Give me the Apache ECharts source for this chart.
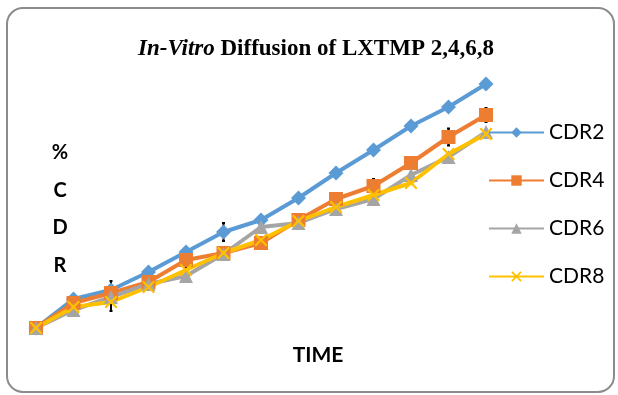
<!DOCTYPE html>
<html>
<head>
<meta charset="utf-8">
<script src="https://cdn.jsdelivr.net/npm/echarts@6/dist/echarts.min.js"></script>
<style>
html,body{margin:0;padding:0;background:#fff;}
#chart{width:618px;height:395px;}
</style>
</head>
<body>
<div id="chart"></div>
<script>
// ---- data ----
var categories = ['0','1','2','3','4','5','6','7','8','9','10','11','12'];
var cdr2 = [0, 11.6, 15.2, 22.4, 30.4, 38.4, 43.2, 52.0, 62.0, 71.2, 80.8, 88.4, 97.6];
var cdr4 = [0, 10.0, 14.0, 18.4, 27.2, 30.0, 34.0, 43.2, 51.6, 56.8, 66.0, 76.4, 85.2];
var cdr6 = [0, 7.2, 12.4, 17.6, 20.8, 29.6, 40.4, 42.0, 47.6, 51.6, 61.2, 68.4, 78.4];
var cdr8 = [0, 8.4, 10.4, 16.4, 23.2, 30.0, 35.2, 42.8, 48.4, 53.2, 58.0, 69.6, 77.6];
// error bars: [category index, centre value, half-range]
var errorBars = [[2, 12.8, 6.0], [4, 21.6, 2.4], [5, 38.4, 3.6], [9, 56.8, 2.8], [11, 76.4, 3.4], [12, 85.2, 2.8]];
var seriesNames = ['CDR2', 'CDR4', 'CDR6', 'CDR8'];

var xSym = 'path://M0,1.2 L1.2,0 L5,3.8 L8.8,0 L10,1.2 L6.2,5 L10,8.8 L8.8,10 L5,6.2 L1.2,10 L0,8.8 L3.8,5 Z';

var chart = echarts.init(document.getElementById('chart'));
function lineSeries(name, data, color, symbol, size) {
  return {
    name: name, type: 'line', data: data,
    symbol: symbol, symbolSize: size, showSymbol: true,
    itemStyle: {color: color},
    lineStyle: {color: color, width: 4},
    z: 3
  };
}
var option = {
  animation: false,
  backgroundColor: '#ffffff',
  grid: {left: 36, right: 132, top: 78, bottom: 67},
  xAxis: {
    type: 'category', data: categories, boundaryGap: false,
    show: false
  },
  yAxis: {type: 'value', min: 0, max: 100, show: false},
  legend: {
    orient: 'vertical', left: 483, top: 117,
    itemWidth: 55, itemHeight: 13, itemGap: 27,
    data: seriesNames,
    textStyle: {fontFamily: 'Lato', fontSize: 21, color: '#000', lineHeight: 21}
  },
  graphic: [
    {type: 'rect', shape: {x: 7, y: 8, width: 607, height: 384, r: 16},
     style: {fill: 'none', stroke: '#8c8c8c', lineWidth: 2}, silent: true},
    {type: 'text', x: 316, y: 49,
     style: {text: '{i|In-Vitro}{b| Diffusion of LXTMP 2,4,6,8}', align: 'center', verticalAlign: 'middle',
       rich: {
         i: {fontFamily: 'Liberation Serif', fontStyle: 'italic', fontWeight: 'bold', fontSize: 23, fill: '#000'},
         b: {fontFamily: 'Liberation Serif', fontWeight: 'bold', fontSize: 23, fill: '#000'}
       }}},
    {type: 'text', x: 60, y: 134,
     style: {text: '%\nC\nD\nR', fontFamily: 'Lato', fontWeight: 'bold', fontSize: 20, lineHeight: 37.5, fill: '#000', align: 'center'}},
    {type: 'text', x: 318, y: 355,
     style: {text: 'TIME', fontFamily: 'Lato', fontWeight: 'bold', fontSize: 21, fill: '#000', align: 'center', verticalAlign: 'middle'}}
  ],
  series: [
    {
      type: 'custom', name: 'err', z: 2, silent: true,
      data: errorBars,
      renderItem: function (params, api) {
        var i = api.value(0), c = api.value(1), e = api.value(2);
        var p1 = api.coord([i, c - e]);
        var p2 = api.coord([i, c + e]);
        return {type: 'group', children: [
          {type: 'line', shape: {x1: p1[0], y1: p1[1], x2: p2[0], y2: p2[1]}, style: {stroke: '#000', lineWidth: 2}},
          {type: 'line', shape: {x1: p1[0]-1.5, y1: p1[1], x2: p1[0]+1.5, y2: p1[1]}, style: {stroke: '#000', lineWidth: 2}},
          {type: 'line', shape: {x1: p2[0]-1.5, y1: p2[1], x2: p2[0]+1.5, y2: p2[1]}, style: {stroke: '#000', lineWidth: 2}}
        ]};
      },
      encode: {x: 0, y: 1}
    },
    lineSeries('CDR2', cdr2, '#5B9BD5', 'diamond', 15),
    lineSeries('CDR4', cdr4, '#ED7D31', 'rect', 14),
    lineSeries('CDR6', cdr6, '#A5A5A5', 'triangle', 14),
    lineSeries('CDR8', cdr8, '#FFC000', xSym, 13)
  ]
};
chart.setOption(option);
</script>
</body>
</html>
